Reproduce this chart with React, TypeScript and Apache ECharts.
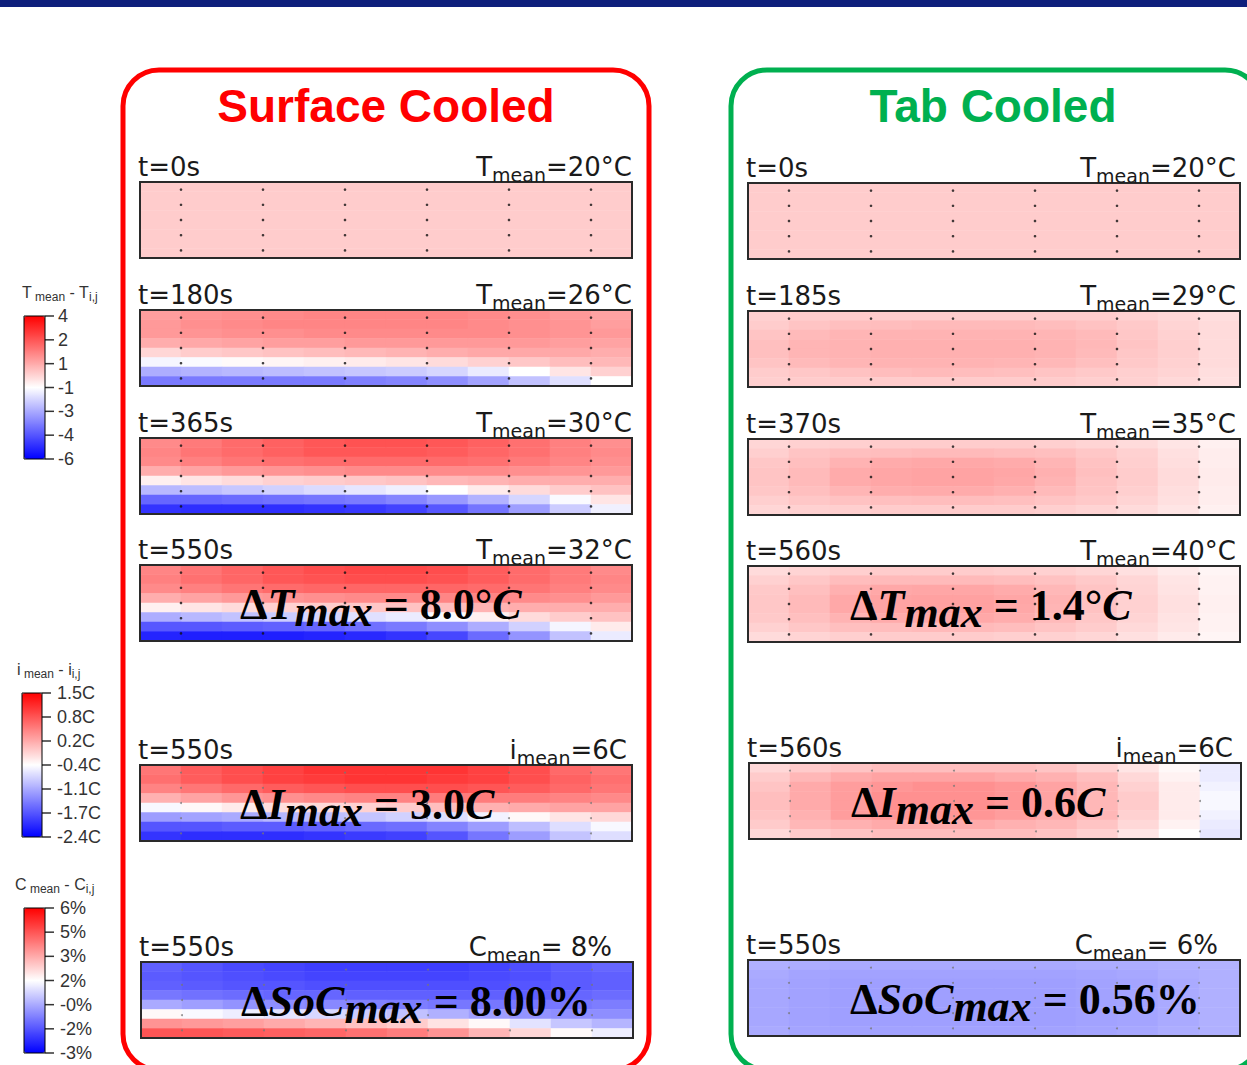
import React, { useEffect, useRef } from 'react';
import * as echarts from 'echarts';

// ---------- colour scales (value ranges of the three colour bars) ----------
const tempRange = [-6, 4];
const currRange = [-2.4, 1.5];
const socRange = [-3, 6];
const tempTicks = ['-6', '-4', '-3', '-1', '1', '2', '4'];
const currTicks = ['-2.4C', '-1.7C', '-1.1C', '-0.4C', '0.2C', '0.8C', '1.5C'];
const socTicks = ['-3%', '-2%', '-0%', '2%', '3%', '5%', '6%'];
const colorMap = ['#0000ff', '#ffffff', '#ff0000'];

// mesh nodes (6 x 5) shown as dots
const nodeX = [0.5, 1.5, 2.5, 3.5, 4.5, 5.5];
const nodeY = [0.5, 1.5, 2.5, 3.5, 4.5];

// ---------- panel texts ----------
const timeLabels = ['t=0s', 't=180s', 't=365s', 't=550s', 't=550s', 't=550s', 't=0s', 't=185s', 't=370s', 't=560s', 't=560s', 't=550s'];
const meanNames = ['T', 'T', 'T', 'T', 'i', 'C', 'T', 'T', 'T', 'T', 'i', 'C'];
const meanValues = ['=20°C', '=26°C', '=30°C', '=32°C', '=6C', '= 8%', '=20°C', '=29°C', '=35°C', '=40°C', '=6C', '= 6%'];
const panelKind = ['T', 'T', 'T', 'T', 'I', 'S', 'T', 'T', 'T', 'T', 'I', 'S'];

// delta annotations: panel index, symbol, value, italic unit
const deltaPanels = [3, 4, 5, 9, 10, 11];
const deltaSymbols = ['T', 'I', 'SoC', 'T', 'I', 'SoC'];
const deltaValues = ['8.0°', '3.0', '8.00%', '1.4°', '0.6', '0.56%'];
const deltaUnits = ['C', 'C', '', 'C', 'C', ''];

// ---------- field values, 12 columns x 8 rows (top row first) ----------
const surfT0 = [
  [0, 0, 0, 0, 0, 0, 0, 0, 0, 0, 0, 0],
  [0, 0, 0, 0, 0, 0, 0, 0, 0, 0, 0, 0],
  [0, 0, 0, 0, 0, 0, 0, 0, 0, 0, 0, 0],
  [0, 0, 0, 0, 0, 0, 0, 0, 0, 0, 0, 0],
  [0, 0, 0, 0, 0, 0, 0, 0, 0, 0, 0, 0],
  [0, 0, 0, 0, 0, 0, 0, 0, 0, 0, 0, 0],
  [0, 0, 0, 0, 0, 0, 0, 0, 0, 0, 0, 0],
  [0, 0, 0, 0, 0, 0, 0, 0, 0, 0, 0, 0],
];
const surfT180 = [
  [0.9, 1.1, 1.2, 1.3, 1.4, 1.4, 1.4, 1.4, 1.3, 1.2, 1.0, 0.8],
  [1.0, 1.2, 1.3, 1.4, 1.4, 1.4, 1.4, 1.4, 1.3, 1.2, 1.1, 0.9],
  [1.0, 1.1, 1.2, 1.2, 1.3, 1.3, 1.3, 1.3, 1.3, 1.2, 1.1, 1.0],
  [0.6, 0.7, 0.8, 0.9, 0.9, 1.0, 1.0, 1.0, 1.0, 1.0, 0.9, 0.8],
  [-0.2, 0.0, 0.1, 0.2, 0.3, 0.4, 0.5, 0.6, 0.7, 0.7, 0.7, 0.6],
  [-1.2, -1.1, -0.9, -0.8, -0.7, -0.6, -0.5, -0.3, -0.1, 0.1, 0.3, 0.4],
  [-2.6, -2.5, -2.4, -2.3, -2.2, -2.1, -2.0, -1.8, -1.4, -1.0, -0.5, -0.1],
  [-3.6, -3.6, -3.6, -3.6, -3.6, -3.5, -3.4, -3.2, -2.8, -2.2, -1.6, -1.0],
];
const surfT365 = [
  [1.3, 1.6, 1.9, 2.1, 2.3, 2.4, 2.4, 2.3, 2.1, 1.8, 1.5, 1.2],
  [1.4, 1.7, 1.9, 2.1, 2.3, 2.3, 2.3, 2.2, 2.0, 1.8, 1.5, 1.3],
  [1.3, 1.5, 1.7, 1.8, 1.9, 1.9, 1.9, 1.9, 1.8, 1.6, 1.4, 1.2],
  [0.6, 0.8, 1.0, 1.1, 1.2, 1.3, 1.3, 1.3, 1.3, 1.2, 1.1, 1.0],
  [-0.7, -0.5, -0.3, -0.1, 0.0, 0.1, 0.2, 0.4, 0.5, 0.6, 0.6, 0.6],
  [-2.4, -2.3, -2.1, -1.9, -1.7, -1.5, -1.3, -1.0, -0.6, -0.3, 0.0, 0.2],
  [-4.0, -4.0, -3.9, -3.8, -3.7, -3.6, -3.4, -3.0, -2.5, -1.8, -1.1, -0.5],
  [-5.0, -5.1, -5.1, -5.1, -5.0, -4.9, -4.7, -4.3, -3.7, -2.9, -2.0, -1.3],
];
const surfT550 = [
  [1.4, 1.7, 2.0, 2.3, 2.5, 2.6, 2.6, 2.5, 2.2, 1.9, 1.6, 1.3],
  [1.5, 1.8, 2.0, 2.3, 2.4, 2.5, 2.5, 2.4, 2.2, 1.9, 1.6, 1.4],
  [1.3, 1.5, 1.7, 1.9, 2.0, 2.0, 2.0, 2.0, 1.9, 1.7, 1.5, 1.3],
  [0.6, 0.8, 1.0, 1.1, 1.2, 1.3, 1.3, 1.4, 1.4, 1.3, 1.2, 1.0],
  [-0.7, -0.5, -0.3, -0.1, 0.0, 0.1, 0.2, 0.3, 0.5, 0.6, 0.6, 0.6],
  [-2.6, -2.4, -2.2, -2.0, -1.8, -1.6, -1.4, -1.1, -0.7, -0.3, 0.0, 0.2],
  [-4.3, -4.3, -4.2, -4.1, -4.0, -3.8, -3.6, -3.2, -2.6, -1.9, -1.2, -0.6],
  [-5.3, -5.4, -5.4, -5.4, -5.3, -5.2, -5.0, -4.6, -3.9, -3.1, -2.2, -1.4],
];
const surfI550 = [
  [0.6, 0.8, 0.9, 1.0, 1.1, 1.1, 1.1, 1.1, 1.0, 0.9, 0.7, 0.6],
  [0.65, 0.8, 0.9, 1.0, 1.05, 1.1, 1.1, 1.05, 1.0, 0.9, 0.75, 0.65],
  [0.5, 0.6, 0.7, 0.8, 0.85, 0.9, 0.9, 0.9, 0.85, 0.8, 0.7, 0.6],
  [0.15, 0.25, 0.35, 0.4, 0.45, 0.5, 0.5, 0.55, 0.55, 0.55, 0.5, 0.45],
  [-0.5, -0.4, -0.3, -0.2, -0.15, -0.1, -0.05, 0.05, 0.15, 0.2, 0.25, 0.25],
  [-1.2, -1.15, -1.1, -1.0, -0.95, -0.9, -0.8, -0.7, -0.55, -0.4, -0.25, -0.15],
  [-1.75, -1.75, -1.7, -1.7, -1.65, -1.6, -1.55, -1.4, -1.2, -0.95, -0.7, -0.5],
  [-2.0, -2.05, -2.05, -2.05, -2.0, -1.95, -1.9, -1.75, -1.5, -1.2, -0.9, -0.7],
];
const surfSoC550 = [
  [-1.3, -1.5, -1.7, -1.8, -1.9, -1.9, -1.9, -1.9, -1.8, -1.6, -1.4, -1.2],
  [-1.4, -1.5, -1.6, -1.7, -1.8, -1.8, -1.8, -1.8, -1.7, -1.6, -1.4, -1.3],
  [-1.3, -1.4, -1.5, -1.5, -1.6, -1.6, -1.6, -1.6, -1.6, -1.5, -1.4, -1.3],
  [-0.9, -1.0, -1.1, -1.2, -1.2, -1.3, -1.3, -1.3, -1.3, -1.3, -1.2, -1.1],
  [0.0, -0.2, -0.4, -0.5, -0.6, -0.7, -0.8, -0.9, -0.9, -0.9, -0.9, -0.8],
  [1.6, 1.4, 1.2, 1.0, 0.8, 0.6, 0.4, 0.1, -0.2, -0.4, -0.5, -0.5],
  [3.4, 3.3, 3.2, 3.0, 2.8, 2.6, 2.4, 2.0, 1.6, 1.0, 0.5, 0.2],
  [4.5, 4.5, 4.4, 4.3, 4.2, 4.0, 3.8, 3.4, 2.8, 2.2, 1.6, 1.2],
];
const tabT0 = [
  [0, 0, 0, 0, 0, 0, 0, 0, 0, 0, 0, 0],
  [0, 0, 0, 0, 0, 0, 0, 0, 0, 0, 0, 0],
  [0, 0, 0, 0, 0, 0, 0, 0, 0, 0, 0, 0],
  [0, 0, 0, 0, 0, 0, 0, 0, 0, 0, 0, 0],
  [0, 0, 0, 0, 0, 0, 0, 0, 0, 0, 0, 0],
  [0, 0, 0, 0, 0, 0, 0, 0, 0, 0, 0, 0],
  [0, 0, 0, 0, 0, 0, 0, 0, 0, 0, 0, 0],
  [0, 0, 0, 0, 0, 0, 0, 0, 0, 0, 0, 0],
];
const tabT185 = [
  [-0.05, 0.0, 0.0, 0.0, 0.0, 0.0, 0.0, 0.0, 0.0, -0.1, -0.2, -0.35],
  [0.0, 0.15, 0.25, 0.3, 0.35, 0.35, 0.35, 0.3, 0.2, 0.05, -0.15, -0.3],
  [0.15, 0.35, 0.45, 0.5, 0.5, 0.5, 0.5, 0.45, 0.35, 0.1, -0.1, -0.3],
  [0.25, 0.45, 0.5, 0.55, 0.55, 0.55, 0.55, 0.5, 0.4, 0.15, -0.05, -0.3],
  [0.25, 0.45, 0.5, 0.55, 0.55, 0.55, 0.55, 0.5, 0.35, 0.1, -0.05, -0.3],
  [0.15, 0.35, 0.45, 0.5, 0.5, 0.5, 0.45, 0.4, 0.25, 0.05, -0.1, -0.3],
  [0.0, 0.1, 0.2, 0.3, 0.35, 0.3, 0.25, 0.15, 0.05, -0.05, -0.15, -0.35],
  [-0.05, 0.0, 0.0, 0.0, 0.0, 0.0, 0.0, 0.0, -0.05, -0.1, -0.25, -0.4],
];
const tabT370 = [
  [-0.2, -0.1, -0.05, 0.0, 0.0, 0.0, 0.0, -0.05, -0.15, -0.3, -0.5, -0.7],
  [-0.05, 0.15, 0.25, 0.3, 0.35, 0.35, 0.3, 0.25, 0.1, -0.1, -0.4, -0.65],
  [0.1, 0.25, 0.5, 0.65, 0.7, 0.7, 0.65, 0.45, 0.2, -0.05, -0.35, -0.65],
  [0.15, 0.35, 0.65, 0.75, 0.8, 0.8, 0.75, 0.55, 0.25, 0.0, -0.3, -0.6],
  [0.15, 0.35, 0.65, 0.75, 0.8, 0.8, 0.7, 0.5, 0.2, 0.0, -0.3, -0.6],
  [0.1, 0.25, 0.45, 0.6, 0.65, 0.65, 0.55, 0.35, 0.15, -0.05, -0.35, -0.65],
  [-0.05, 0.1, 0.2, 0.25, 0.3, 0.3, 0.25, 0.15, 0.05, -0.15, -0.4, -0.65],
  [-0.2, -0.1, -0.05, 0.0, 0.0, 0.0, 0.0, -0.05, -0.15, -0.3, -0.5, -0.7],
];
const tabT560 = [
  [-0.3, -0.15, -0.05, 0.0, 0.0, 0.0, -0.05, -0.1, -0.2, -0.4, -0.6, -0.8],
  [-0.1, 0.1, 0.3, 0.35, 0.35, 0.35, 0.3, 0.2, 0.05, -0.2, -0.5, -0.75],
  [0.05, 0.25, 0.55, 0.7, 0.75, 0.75, 0.65, 0.4, 0.15, -0.15, -0.45, -0.75],
  [0.1, 0.35, 0.7, 0.8, 0.85, 0.85, 0.75, 0.5, 0.2, -0.1, -0.4, -0.7],
  [0.1, 0.35, 0.7, 0.8, 0.85, 0.85, 0.7, 0.45, 0.2, -0.1, -0.4, -0.7],
  [0.05, 0.25, 0.5, 0.65, 0.7, 0.7, 0.6, 0.35, 0.1, -0.15, -0.45, -0.75],
  [-0.1, 0.1, 0.25, 0.3, 0.35, 0.35, 0.3, 0.15, 0.0, -0.25, -0.5, -0.75],
  [-0.3, -0.15, -0.05, 0.0, 0.0, 0.0, -0.05, -0.1, -0.2, -0.4, -0.6, -0.8],
];
const tabI560 = [
  [-0.15, -0.05, 0.0, 0.05, 0.05, 0.05, 0.05, 0.0, -0.1, -0.25, -0.4, -0.6],
  [-0.05, 0.1, 0.2, 0.25, 0.25, 0.25, 0.2, 0.15, 0.05, -0.15, -0.35, -0.6],
  [0.0, 0.2, 0.3, 0.35, 0.4, 0.4, 0.35, 0.25, 0.1, -0.1, -0.3, -0.55],
  [0.05, 0.2, 0.3, 0.4, 0.4, 0.4, 0.35, 0.25, 0.1, -0.05, -0.3, -0.5],
  [0.05, 0.2, 0.3, 0.4, 0.4, 0.4, 0.35, 0.25, 0.1, -0.05, -0.3, -0.5],
  [0.0, 0.15, 0.3, 0.35, 0.35, 0.35, 0.3, 0.2, 0.1, -0.1, -0.3, -0.55],
  [-0.05, 0.1, 0.15, 0.2, 0.2, 0.2, 0.15, 0.1, 0.0, -0.15, -0.35, -0.6],
  [-0.15, -0.05, 0.0, 0.05, 0.05, 0.05, 0.05, 0.0, -0.1, -0.25, -0.45, -0.65],
];
const tabSoC550 = [
  [0.1, 0.05, 0.0, 0.0, 0.0, 0.0, 0.0, 0.0, 0.05, 0.05, 0.1, 0.15],
  [0.0, -0.1, -0.15, -0.15, -0.15, -0.15, -0.15, -0.15, -0.1, -0.05, 0.05, 0.1],
  [-0.05, -0.15, -0.2, -0.2, -0.2, -0.2, -0.2, -0.2, -0.15, -0.1, 0.0, 0.1],
  [-0.05, -0.15, -0.2, -0.2, -0.2, -0.2, -0.2, -0.2, -0.15, -0.1, 0.0, 0.1],
  [-0.05, -0.15, -0.2, -0.2, -0.2, -0.2, -0.2, -0.2, -0.15, -0.1, 0.0, 0.1],
  [-0.05, -0.15, -0.2, -0.2, -0.2, -0.2, -0.2, -0.2, -0.15, -0.1, 0.0, 0.1],
  [-0.05, -0.15, -0.2, -0.2, -0.2, -0.2, -0.2, -0.2, -0.15, -0.1, 0.0, 0.1],
  [0.0, -0.1, -0.15, -0.15, -0.15, -0.15, -0.15, -0.15, -0.1, -0.05, 0.05, 0.1],
];
const fields = [surfT0, surfT180, surfT365, surfT550, surfI550, surfSoC550, tabT0, tabT185, tabT370, tabT560, tabI560, tabSoC550];

// ---------- layout (positions / sizes only) ----------
const PW = 492;
const PH = 76;
const panelPos = [
  [140, 182], [140, 310], [140, 438], [140, 565], [140, 765], [141, 962],
  [748, 183], [748, 311], [748, 439], [748, 566], [749, 763], [748, 960],
];
const meanRight = [632, 632, 632, 632, 627, 612, 1236, 1236, 1236, 1236, 1233, 1218];
const barPos = [
  { x: 24, y: 316, w: 21, h: 143, m: 13 },
  { x: 22, y: 693, w: 20, h: 144, m: 15 },
  { x: 24, y: 908, w: 21, h: 145, m: 15 },
];

const SANS = '"DejaVu Sans", sans-serif';
const ARIAL = '"Liberation Sans", Arial, sans-serif';
const SERIF = '"Liberation Serif", "Times New Roman", serif';

function buildOption() {
  const grid: any[] = [];
  const xAxis: any[] = [];
  const yAxis: any[] = [];
  const series: any[] = [];
  const graphic: any[] = [];
  const colCats = fields[0][0].map((_, i) => String(i));
  const rowCats = fields[0].map((_, i) => String(i));
  const nodes: number[][] = [];
  nodeX.forEach((x) => nodeY.forEach((y) => nodes.push([x, y])));

  fields.forEach((f, i) => {
    const [px, py] = panelPos[i];
    grid.push({ left: px, top: py, width: PW, height: PH, show: true, borderColor: '#2a2a2a', borderWidth: 2, z: 10 });
    xAxis.push({ type: 'category', gridIndex: i, data: colCats, show: false });
    yAxis.push({ type: 'category', gridIndex: i, data: rowCats, show: false, inverse: true });
    xAxis.push({ type: 'value', gridIndex: i, min: 0, max: 6, show: false });
    yAxis.push({ type: 'value', gridIndex: i, min: 0, max: 5, show: false });
    const data: number[][] = [];
    f.forEach((row, r) => row.forEach((v, c) => data.push([c, r, v])));
    series.push({
      type: 'heatmap', xAxisIndex: 2 * i, yAxisIndex: 2 * i, data,
      emphasis: { disabled: true }, silent: true, progressive: 0,
    });
    const light = panelKind[i] !== 'T';
    series.push({
      type: 'scatter', xAxisIndex: 2 * i + 1, yAxisIndex: 2 * i + 1, data: nodes,
      symbol: 'circle', symbolSize: light ? 2 : 2.6, silent: true, z: 5,
      itemStyle: { color: light ? '#777' : '#111' },
    });

    // labels
    graphic.push({
      type: 'text', x: px - 2, y: py - 15, z: 50,
      style: { text: timeLabels[i], fontSize: 26, fontFamily: SANS, fill: '#1a1a1a', align: 'left', verticalAlign: 'middle' },
    });
    graphic.push({
      type: 'text', x: meanRight[i], y: py - 15, z: 50,
      style: {
        text: `{m|${meanNames[i]}}{s|mean}{m|${meanValues[i]}}`,
        align: 'right', verticalAlign: 'middle', fill: '#1a1a1a',
        fontSize: 26, fontFamily: SANS, lineHeight: 34,
        rich: {
          m: { fontSize: 26, fontFamily: SANS, lineHeight: 34, fill: '#1a1a1a' },
          s: { fontSize: 19, fontFamily: SANS, lineHeight: 16, verticalAlign: 'bottom', fill: '#1a1a1a' },
        },
      },
    });
  });

  // delta annotations
  const fBase = { fontSize: 44, fontFamily: SERIF, fontWeight: 'bold', fill: '#000', lineHeight: 58 };
  deltaPanels.forEach((p, k) => {
    const [px, py] = panelPos[p];
    const unit = deltaUnits[k] ? `{v|${deltaUnits[k]}}` : '';
    graphic.push({
      type: 'text', x: px + (p < 6 ? 100 : 102), y: py + 39, z: 60,
      style: {
        text: `{d|Δ}{v|${deltaSymbols[k]}}{s|max}{n| = ${deltaValues[k]}}${unit}`,
        align: 'left', verticalAlign: 'middle', ...fBase,
        rich: {
          d: { ...fBase, fontStyle: 'normal' },
          v: { ...fBase, fontStyle: 'italic' },
          s: { ...fBase, fontStyle: 'italic', lineHeight: 36, verticalAlign: 'bottom' },
          n: { ...fBase, fontStyle: 'normal' },
        },
      },
    });
  });

  // colour bars
  const tickSets = [tempTicks, currTicks, socTicks];
  const ranges = [tempRange, currRange, socRange];
  const kinds = ['T', 'I', 'S'];
  const titles = [
    { a: 'T', b: 'i,j', x: 22, y: 292 },
    { a: 'i', b: 'i,j', x: 17, y: 669 },
    { a: 'C', b: 'i,j', x: 15, y: 884 },
  ];
  const visualMap: any[] = [];
  barPos.forEach((b, k) => {
    const gi = fields.length + k;
    grid.push({ left: b.x, top: b.y, width: b.w, height: b.h, show: true, borderColor: '#000', borderWidth: 1, z: 10 });
    xAxis.push({ type: 'value', gridIndex: gi, min: 0, max: 1, show: false });
    yAxis.push({
      type: 'category', gridIndex: gi, data: tickSets[k], boundaryGap: false, position: 'right',
      axisLine: { show: false },
      axisTick: { show: false },
      axisLabel: { interval: 0, margin: b.m, fontSize: 18, fontFamily: ARIAL, color: '#333' },
      splitLine: { show: false },
    });
    // tick marks on the right edge of the colour bar, one per label
    series.push({
      type: 'scatter', xAxisIndex: xAxis.length - 1, yAxisIndex: yAxis.length - 1,
      data: tickSets[k].map((t) => [1, t]), symbol: 'rect', symbolSize: [9, 1.5], symbolOffset: [4.5, 0],
      itemStyle: { color: '#000' }, clip: false, silent: true, z: 12,
    });
    const idx: number[] = [];
    panelKind.forEach((pk, i) => { if (pk === kinds[k]) idx.push(2 * i); });
    visualMap.push({
      type: 'continuous', min: ranges[k][0], max: ranges[k][1], seriesIndex: idx, dimension: 2,
      inRange: { color: colorMap }, left: b.x, top: b.y, itemWidth: b.w, itemHeight: b.h,
      padding: 0, borderWidth: 0, calculable: false, hoverLink: false, realtime: false,
      orient: 'vertical', show: true,
    });
    const t = titles[k];
    graphic.push({
      type: 'text', x: t.x, y: t.y, z: 50,
      style: {
        text: `{a|${t.a}}{b| mean}{a| - ${t.a}}{b|${t.b}}`,
        align: 'left', verticalAlign: 'middle', fontSize: 16, fontFamily: ARIAL, lineHeight: 22,
        rich: {
          a: { fontSize: 16, fontFamily: ARIAL, fill: '#333', lineHeight: 22 },
          b: { fontSize: 12, fontFamily: ARIAL, fill: '#333', lineHeight: 11, verticalAlign: 'bottom' },
        },
      },
    });
  });

  // frames, header and titles
  graphic.push(
    { type: 'rect', shape: { x: 0, y: 0, width: 1247, height: 7 }, style: { fill: '#0e1f7c' }, z: 1 },
    { type: 'rect', shape: { x: 123, y: 70, width: 526, height: 1000, r: 36 }, style: { fill: 'none', stroke: '#ff0000', lineWidth: 5 }, z: 1 },
    { type: 'rect', shape: { x: 731, y: 70, width: 530, height: 1000, r: 36 }, style: { fill: 'none', stroke: '#00b050', lineWidth: 5 }, z: 1 },
    { type: 'text', x: 386, y: 106, z: 50, style: { text: 'Surface Cooled', fontSize: 46, fontWeight: 'bold', fontFamily: ARIAL, fill: '#ff0000', align: 'center', verticalAlign: 'middle' } },
    { type: 'text', x: 993, y: 106, z: 50, style: { text: 'Tab Cooled', fontSize: 46, fontWeight: 'bold', fontFamily: ARIAL, fill: '#00b050', align: 'center', verticalAlign: 'middle' } },
  );

  return {
    animation: false,
    backgroundColor: '#ffffff',
    grid, xAxis, yAxis, series, visualMap, graphic,
  };
}

export default function App() {
  const ref = useRef<HTMLDivElement>(null);
  useEffect(() => {
    const chart = echarts.init(ref.current as HTMLDivElement, null, { renderer: 'svg' });
    chart.setOption(buildOption() as any);
    return () => chart.dispose();
  }, []);
  return (
    <div
      ref={ref}
      style={{ position: 'fixed', left: 0, top: 0, width: 1247, height: 1065, background: '#fff' }}
    />
  );
}
